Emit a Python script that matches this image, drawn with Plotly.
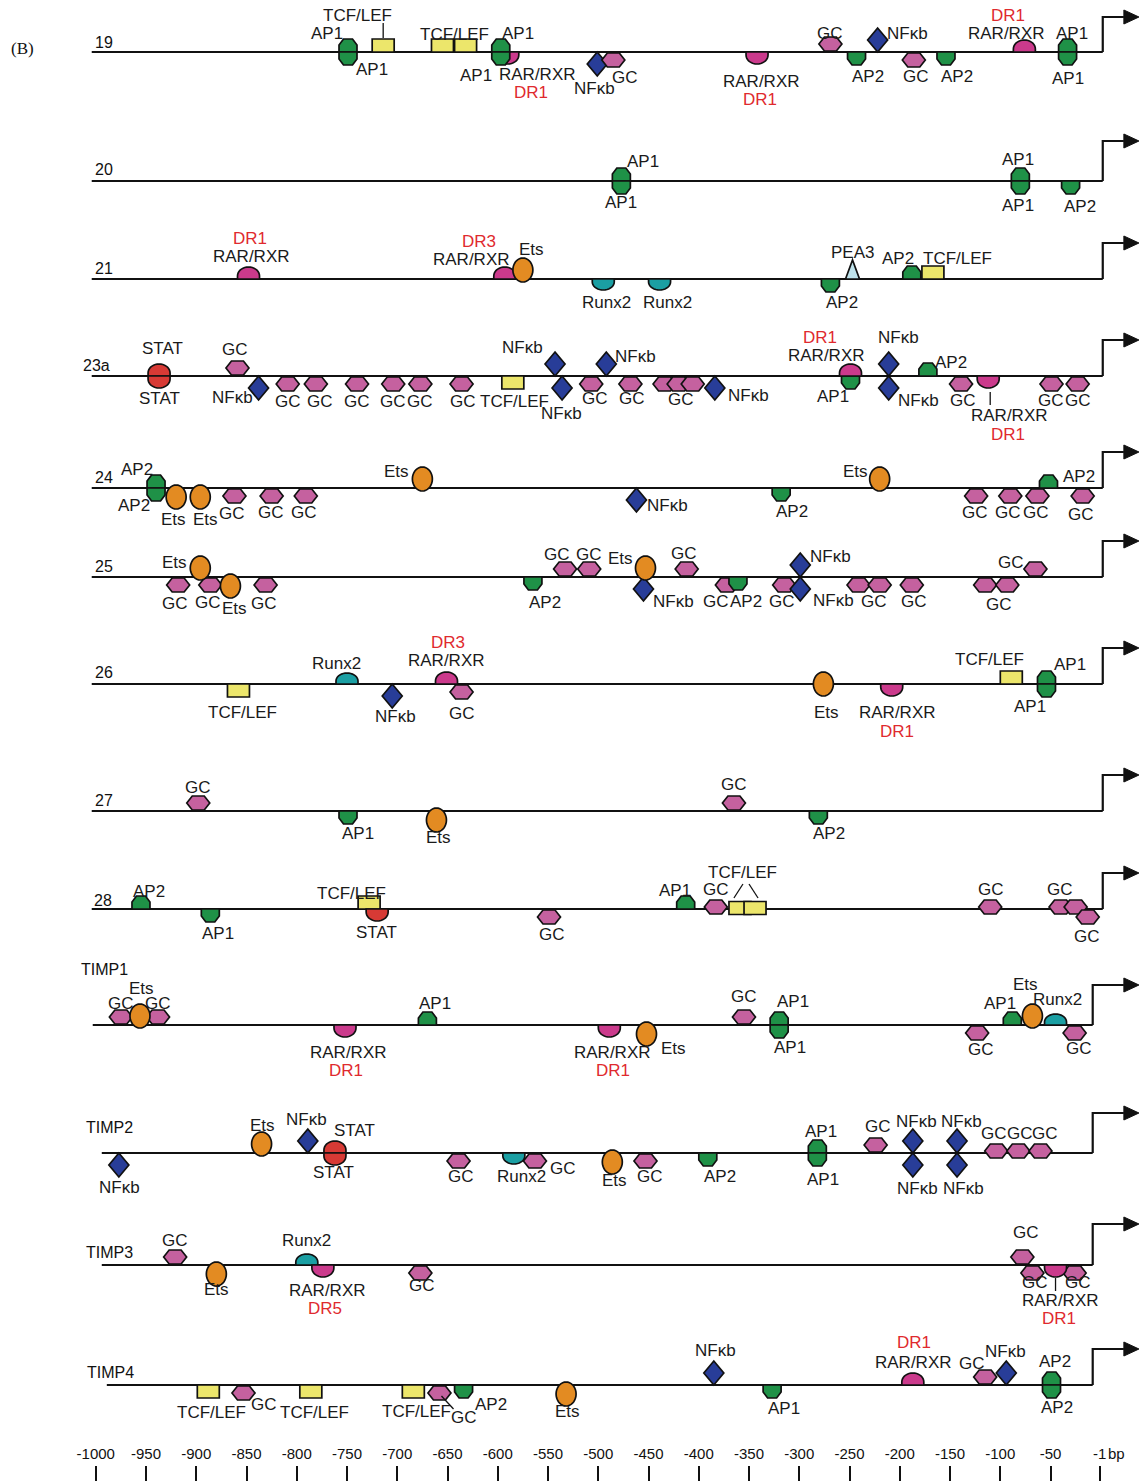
import math
import plotly.graph_objects as go

# ---------------------------------------------------------------------------
# Promoter rows (bp positions upstream of the transcription start site)
# site = (position_bp, factor, strand)   strand: u = upper, d = lower, m = on line
# label = (text, position_bp, vertical offset in px from the row line)
# ---------------------------------------------------------------------------
ROW_NAMES = ["19", "20", "21", "23a", "24", "25", "26", "27", "28",
             "TIMP1", "TIMP2", "TIMP3", "TIMP4"]
ROW_START_BP = [-1004, -1004, -1004, -1004, -1004, -1004, -1004, -1004, -1004,
                -1003, -994, -994, -989]
ROW_END_BP = [2, 2, 2, 2, 2, 2, 2, 2, 2, -8, -8, -8, -8]

SITES_19 = [(-749, "AP1", "u"), (-749, "AP1", "d"), (-714, "TCF", "u"),
            (-655, "TCF", "u"), (-632, "TCF", "u"), (-590, "RAR", "d"),
            (-597, "AP1", "u"), (-597, "AP1", "d"), (-501, "NF", "d"),
            (-485, "GC", "d"), (-342, "RAR", "d"), (-269, "GC", "u"),
            (-243, "AP2", "d"), (-222, "NF", "u"), (-186, "GC", "d"),
            (-154, "AP2", "d"), (-76, "RAR", "u"), (-33, "AP1", "u"),
            (-33, "AP1", "d")]
LABELS_19 = [("AP1", -770, -19), ("TCF/LEF", -740, -37), ("AP1", -725, 17),
             ("TCF/LEF", -643, -18), ("AP1", -580, -19), ("AP1", -622, 23),
             ("RAR/RXR", -560, 22), ("DR1", -567, 40), ("NFκb", -504, 36),
             ("GC", -473, 25), ("RAR/RXR", -338, 29), ("DR1", -339, 47),
             ("GC", -269, -19), ("AP2", -232, 24), ("NFκb", -192, -19),
             ("GC", -184, 24), ("AP2", -143, 24), ("RAR/RXR", -94, -19),
             ("DR1", -92, -37), ("AP1", -29, -19), ("AP1", -33, 26)]
LEADERS_19 = [(-714, -29, -714, -14)]

SITES_20 = [(-477, "AP1", "u"), (-477, "AP1", "d"), (-80, "AP1", "u"),
            (-80, "AP1", "d"), (-30, "AP2", "d")]
LABELS_20 = [("AP1", -455, -20), ("AP1", -477, 21), ("AP1", -82, -22),
             ("AP1", -82, 24), ("AP2", -21, 25)]
LEADERS_20 = []

SITES_21 = [(-848, "RAR", "u"), (-593, "RAR", "u"), (-575, "Ets", "u"),
            (-495, "Runx2", "d"), (-439, "Runx2", "d"), (-269, "AP2", "d"),
            (-247, "PEA3", "u"), (-188, "AP2", "u"), (-167, "TCF", "u")]
LABELS_21 = [("DR1", -847, -41), ("RAR/RXR", -845, -23), ("DR3", -619, -38),
             ("RAR/RXR", -626, -20), ("Ets", -566, -30), ("Runx2", -492, 23),
             ("Runx2", -431, 23), ("AP2", -257, 23), ("PEA3", -247, -27),
             ("AP2", -202, -21), ("TCF/LEF", -143, -21)]
LEADERS_21 = []

SITES_23A = [(-937, "STAT", "u"), (-937, "STAT", "d"), (-859, "GC", "u"),
             (-838, "NF", "d"), (-809, "GC", "d"), (-781, "GC", "d"),
             (-740, "GC", "d"), (-704, "GC", "d"), (-677, "GC", "d"),
             (-636, "GC", "d"), (-585, "TCF", "d"), (-543, "NF", "u"),
             (-536, "NF", "d"), (-507, "GC", "d"), (-492, "NF", "u"),
             (-468, "GC", "d"), (-434, "GC", "d"), (-420, "GC", "d"),
             (-406, "GC", "d"), (-384, "NF", "d"), (-249, "AP1", "d"),
             (-249, "RAR", "u"), (-211, "NF", "u"), (-211, "NF", "d"),
             (-172, "AP2", "u"), (-139, "GC", "d"), (-112, "RAR", "d"),
             (-49, "GC", "d"), (-23, "GC", "d")]
LABELS_23A = [("STAT", -934, -28), ("STAT", -937, 22), ("GC", -861, -27),
              ("NFκb", -864, 21), ("GC", -809, 25), ("GC", -777, 25),
              ("GC", -740, 25), ("GC", -704, 25), ("GC", -677, 25),
              ("GC", -635, 25), ("TCF/LEF", -583, 25), ("NFκb", -537, 37),
              ("NFκb", -575, -29), ("GC", -503, 22), ("NFκb", -463, -20),
              ("GC", -466, 22), ("GC", -418, 23), ("NFκb", -351, 19),
              ("DR1", -279, -39), ("RAR/RXR", -273, -21), ("AP1", -266, 20),
              ("NFκb", -201, -39), ("NFκb", -181, 24), ("AP2", -149, -14),
              ("GC", -137, 24), ("RAR/RXR", -91, 39), ("DR1", -92, 58),
              ("GC", -50, 24), ("GC", -23, 24)]
LEADERS_23A = [(-110, 16, -110, 29)]

SITES_24 = [(-940, "AP2", "u"), (-940, "AP2", "d"), (-920, "Ets", "d"),
            (-896, "Ets", "d"), (-862, "GC", "d"), (-825, "GC", "d"),
            (-791, "GC", "d"), (-675, "Ets", "u"), (-462, "NF", "d"),
            (-318, "AP2", "d"), (-220, "Ets", "u"), (-124, "GC", "d"),
            (-90, "GC", "d"), (-63, "GC", "d"), (-52, "AP2", "u"),
            (-18, "GC", "d")]
LABELS_24 = [("AP2", -959, -19), ("AP2", -962, 17), ("Ets", -923, 31),
             ("Ets", -891, 31), ("GC", -864, 25), ("GC", -826, 24),
             ("GC", -793, 24), ("Ets", -701, -17), ("NFκb", -431, 17),
             ("AP2", -307, 23), ("Ets", -244, -17), ("GC", -125, 24),
             ("GC", -92, 24), ("GC", -64, 24), ("AP2", -22, -12),
             ("GC", -20, 26)]
LEADERS_24 = []

SITES_25 = [(-918, "GC", "d"), (-886, "GC", "d"), (-896, "Ets", "u"),
            (-866, "Ets", "d"), (-831, "GC", "d"), (-565, "AP2", "d"),
            (-533, "GC", "u"), (-509, "GC", "u"), (-455, "NF", "d"),
            (-453, "Ets", "u"), (-412, "GC", "u"), (-372, "GC", "d"),
            (-361, "AP2", "d"), (-315, "GC", "d"), (-299, "NF", "u"),
            (-299, "NF", "d"), (-241, "GC", "d"), (-220, "GC", "d"),
            (-188, "GC", "d"), (-115, "GC", "d"), (-93, "GC", "d"),
            (-65, "GC", "u")]
LABELS_25 = [("Ets", -922, -15), ("GC", -921, 26), ("GC", -888, 25),
             ("Ets", -862, 31), ("GC", -833, 26), ("AP2", -553, 25),
             ("GC", -541, -23), ("GC", -509, -23), ("Ets", -478, -19),
             ("NFκb", -425, 24), ("GC", -415, -24), ("GC", -383, 24),
             ("AP2", -353, 24), ("GC", -317, 24), ("NFκb", -269, -21),
             ("NFκb", -266, 23), ("GC", -226, 24), ("GC", -186, 24),
             ("GC", -101, 27), ("GC", -89, -15)]
LEADERS_25 = []

SITES_26 = [(-858, "TCF", "d"), (-750, "Runx2", "u"), (-705, "NF", "d"),
            (-651, "RAR", "u"), (-636, "GC", "d"), (-276, "Ets", "m"),
            (-208, "RAR", "d"), (-89, "TCF", "u"), (-54, "AP1", "u"),
            (-54, "AP1", "d")]
LABELS_26 = [("TCF/LEF", -854, 28), ("Runx2", -760, -21), ("NFκb", -702, 32),
             ("DR3", -650, -42), ("RAR/RXR", -651, -24), ("GC", -636, 29),
             ("Ets", -273, 28), ("RAR/RXR", -202, 28), ("DR1", -203, 47),
             ("TCF/LEF", -111, -25), ("AP1", -31, -20), ("AP1", -70, 22)]
LEADERS_26 = []

SITES_27 = [(-898, "GC", "u"), (-749, "AP1", "d"), (-661, "Ets", "d"),
            (-365, "GC", "u"), (-281, "AP2", "d")]
LABELS_27 = [("GC", -898, -24), ("AP1", -739, 22), ("Ets", -659, 26),
             ("GC", -365, -27), ("AP2", -270, 22)]
LEADERS_27 = []

SITES_28 = [(-955, "AP2", "u"), (-886, "AP1", "d"), (-728, "TCF", "u"),
            (-720, "STAT", "d"), (-549, "GC", "d"), (-413, "AP1", "u"),
            (-383, "GC", "m"), (-359, "TCF", "m"), (-344, "TCF", "m"),
            (-110, "GC", "m"), (-40, "GC", "m"), (-25, "GC", "m"),
            (-13, "GC", "d")]
LABELS_28 = [("AP2", -947, -18), ("AP1", -878, 24), ("TCF/LEF", -746, -16),
             ("STAT", -721, 23), ("GC", -546, 25), ("AP1", -424, -19),
             ("GC", -383, -20), ("TCF/LEF", -356, -37), ("GC", -109, -20),
             ("GC", -41, -20), ("GC", -14, 27)]
LEADERS_28 = [(-365, -11, -356, -25), (-350, -25, -341, -11)]

SITES_TIMP1 = [(-975, "GC", "u"), (-938, "GC", "u"), (-956, "Ets", "u"),
               (-752, "RAR", "d"), (-670, "AP1", "u"), (-489, "RAR", "d"),
               (-452, "Ets", "d"), (-355, "GC", "u"), (-320, "AP1", "u"),
               (-320, "AP1", "d"), (-123, "GC", "d"), (-88, "AP1", "u"),
               (-45, "Runx2", "u"), (-68, "Ets", "u"), (-26, "GC", "d")]
LABELS_TIMP1 = [("GC", -975, -22), ("Ets", -954, -37), ("GC", -938, -22),
                ("RAR/RXR", -749, 27), ("DR1", -751, 45), ("AP1", -662, -22),
                ("RAR/RXR", -486, 27), ("DR1", -485, 45), ("Ets", -425, 23),
                ("GC", -355, -29), ("AP1", -306, -24), ("AP1", -309, 22),
                ("GC", -119, 24), ("AP1", -100, -22), ("Ets", -75, -41),
                ("Runx2", -43, -26), ("GC", -22, 23)]
LEADERS_TIMP1 = []

SITES_TIMP2 = [(-977, "NF", "d"), (-835, "Ets", "u"), (-789, "NF", "u"),
               (-762, "STAT", "u"), (-762, "STAT", "d"), (-639, "GC", "d"),
               (-584, "Runx2", "d"), (-563, "GC", "d"), (-486, "Ets", "d"),
               (-453, "GC", "d"), (-391, "AP2", "d"), (-282, "AP1", "u"),
               (-282, "AP1", "d"), (-224, "GC", "u"), (-187, "NF", "u"),
               (-187, "NF", "d"), (-143, "NF", "u"), (-143, "NF", "d"),
               (-104, "GC", "m"), (-82, "GC", "m"), (-60, "GC", "m")]
LABELS_TIMP2 = [("NFκb", -976, 34), ("Ets", -834, -28), ("NFκb", -790, -34),
                ("STAT", -743, -23), ("STAT", -763, 19), ("GC", -637, 23),
                ("Runx2", -576, 23), ("GC", -535, 15), ("Ets", -484, 27),
                ("GC", -449, 23), ("AP2", -379, 23), ("AP1", -278, -22),
                ("AP1", -276, 26), ("GC", -222, -27), ("NFκb", -183, -32),
                ("NFκb", -182, 35), ("NFκb", -139, -32), ("NFκb", -137, 35),
                ("GC", -106, -20), ("GC", -80, -20), ("GC", -55, -20)]
LEADERS_TIMP2 = []

SITES_TIMP3 = [(-921, "GC", "u"), (-880, "Ets", "d"), (-790, "Runx2", "u"),
               (-774, "RAR", "d"), (-677, "GC", "d"), (-78, "GC", "u"),
               (-68, "GC", "d"), (-26, "GC", "d"), (-45, "RAR", "d")]
LABELS_TIMP3 = [("GC", -921, -25), ("Ets", -880, 24), ("Runx2", -790, -25),
                ("RAR/RXR", -769, 25), ("DR5", -772, 43), ("GC", -675, 20),
                ("GC", -74, -33), ("GC", -65, 17), ("GC", -23, 17),
                ("RAR/RXR", -40, 35), ("DR1", -42, 53)]
LEADERS_TIMP3 = [(-45, 13, -45, 26)]

SITES_TIMP4 = [(-888, "TCF", "d"), (-853, "GC", "d"), (-786, "TCF", "d"),
               (-684, "TCF", "d"), (-658, "GC", "d"), (-634, "AP2", "d"),
               (-532, "Ets", "d"), (-385, "NF", "u"), (-327, "AP1", "d"),
               (-187, "RAR", "u"), (-115, "GC", "u"), (-94, "NF", "u"),
               (-49, "AP2", "u"), (-49, "AP2", "d")]
LABELS_TIMP4 = [("TCF/LEF", -885, 27), ("GC", -833, 19), ("TCF/LEF", -782, 27),
                ("TCF/LEF", -681, 26), ("GC", -634, 32), ("AP2", -607, 19),
                ("Ets", -531, 26), ("NFκb", -383, -35), ("AP1", -315, 23),
                ("DR1", -186, -43), ("RAR/RXR", -186, -23), ("GC", -128, -22),
                ("NFκb", -95, -34), ("AP2", -46, -24), ("AP2", -44, 22)]
LEADERS_TIMP4 = [(-656, 11, -644, 24)]

ROW_SITES = [SITES_19, SITES_20, SITES_21, SITES_23A, SITES_24, SITES_25,
             SITES_26, SITES_27, SITES_28, SITES_TIMP1, SITES_TIMP2,
             SITES_TIMP3, SITES_TIMP4]
ROW_LABELS = [LABELS_19, LABELS_20, LABELS_21, LABELS_23A, LABELS_24, LABELS_25,
              LABELS_26, LABELS_27, LABELS_28, LABELS_TIMP1, LABELS_TIMP2,
              LABELS_TIMP3, LABELS_TIMP4]
ROW_LEADERS = [LEADERS_19, LEADERS_20, LEADERS_21, LEADERS_23A, LEADERS_24,
               LEADERS_25, LEADERS_26, LEADERS_27, LEADERS_28, LEADERS_TIMP1,
               LEADERS_TIMP2, LEADERS_TIMP3, LEADERS_TIMP4]

TICK_VALUES = [-1000, -950, -900, -850, -800, -750, -700, -650, -600, -550,
               -500, -450, -400, -350, -300, -250, -200, -150, -100, -50, -1]
TICK_TEXT = [str(v) for v in TICK_VALUES]

# ---------------------------------------------------------------------------
# Page layout (pixels)
# ---------------------------------------------------------------------------
W, H = 1142, 1481
PX_PER_BP = 1.005
REF_PX, REF_BP = 146, -950
X_RANGE = [REF_BP - REF_PX / PX_PER_BP, REF_BP + (W - REF_PX) / PX_PER_BP]

ROW_Y = [52, 181, 279, 376, 488, 577, 684, 811, 909, 1025, 1153, 1265, 1385]
ARROW_RISE = [35, 40, 36, 36, 36, 36, 36, 36, 36, 40, 40, 41, 36]
TITLE_LEFT_BP = [-1003, -1003, -1003, -1015, -1003, -1003, -1003, -1003,
                 -1004, -1017, -1012, -1012, -1011]
TITLE_DY = [-10, -12, -11, -11, -11, -11, -12, -11, -9, -56, -26, -13, -13]
ARROW_HEAD_BP = (23, 38)

FILL = {"AP1": "#1f9147", "AP2": "#1f9147", "GC": "#c5619f", "NF": "#283d98",
        "RAR": "#cb3a8c", "Ets": "#e38b22", "TCF": "#ece66b", "STAT": "#d73a35",
        "Runx2": "#1b9fa3", "PEA3": "#bfe3ec"}
RED = "#df2a2e"
FONT = "Liberation Sans, Arial, sans-serif"
LABEL_SIZE = 17
OUTLINE_W = 1.7


def outline(kind, strand):
    """Return (centre offset, list of (dx px, dy px) vertices) for a site glyph."""
    s = -1 if strand == "u" else 1
    if kind in ("AP1", "AP2"):
        return 0, [(-9, 0), (-9, 7 * s), (-4.5, 13 * s), (4.5, 13 * s),
                   (9, 7 * s), (9, 0)]
    if kind == "GC":
        c = {"u": -8, "d": 8, "m": -2}[strand]
        return c, [(-11.5, 0), (-6, -7), (6, -7), (11.5, 0), (6, 7), (-6, 7)]
    if kind == "NF":
        if strand == "m":
            return 0, [(0, -12.5), (-10, 0), (0, 12.5), (10, 0)]
        return 0, [(0, 0), (-10, 12 * s), (0, 24 * s), (10, 12 * s)]
    if kind in ("RAR", "STAT", "Runx2"):
        w, h = 11, (11 if kind == "Runx2" else 12)
        pts = [(-w, 0)]
        for i in range(19):
            t = math.pi * i / 18
            pts.append((-w * math.cos(t), s * (3 + (h - 3) * math.sin(t))))
        pts.append((w, 0))
        return 0, pts
    if kind == "Ets":
        c = {"u": -9, "d": 9, "m": 0}[strand]
        return c, [(10 * math.cos(2 * math.pi * i / 36),
                    12 * math.sin(2 * math.pi * i / 36)) for i in range(36)]
    if kind == "TCF":
        if strand == "m":
            return -1, [(-11, -6.5), (11, -6.5), (11, 6.5), (-11, 6.5)]
        return 0, [(-11, 0), (-11, 13 * s), (11, 13 * s), (11, 0)]
    if kind == "PEA3":
        return 0, [(-7, 0), (0, -19), (7, 0)]
    raise ValueError(kind)


shapes = []
annotations = []


def add_path(points, fill=None, width=OUTLINE_W):
    d = "M " + " L ".join(f"{x:.3f},{y:.2f}" for x, y in points)
    if fill is not None:
        d += " Z"
    shapes.append(dict(type="path", path=d, xref="x", yref="y", layer="above",
                       fillcolor=fill if fill else "rgba(0,0,0,0)",
                       line=dict(color="#111111", width=width)))


def bp_shift(bp, dx_px):
    return bp + dx_px / PX_PER_BP


for i, name in enumerate(ROW_NAMES):
    y0 = ROW_Y[i]
    start, end = ROW_START_BP[i], ROW_END_BP[i]
    top = y0 - ARROW_RISE[i]
    # backbone and transcription-start arrow
    add_path([(start, y0), (end, y0)], width=2.2)
    add_path([(end, y0), (end, top), (ARROW_HEAD_BP[0], top)], width=2.2)
    add_path([(ARROW_HEAD_BP[0], top - 7), (ARROW_HEAD_BP[1], top),
              (ARROW_HEAD_BP[0], top + 7)], fill="#111111", width=1)
    annotations.append(dict(x=TITLE_LEFT_BP[i], y=y0 + TITLE_DY[i], text=name,
                            xanchor="left", yanchor="middle", showarrow=False,
                            font=dict(family=FONT, size=16, color="#111111")))
    # binding sites
    for bp, kind, strand in ROW_SITES[i]:
        c, pts = outline(kind, strand)
        add_path([(bp_shift(bp, dx), y0 + c + dy) for dx, dy in pts],
                 fill=FILL[kind])
    # leader ticks
    for b1, d1, b2, d2 in ROW_LEADERS[i]:
        add_path([(b1, y0 + d1), (b2, y0 + d2)], width=1.3)
    # text labels
    for text, bp, dy in ROW_LABELS[i]:
        annotations.append(dict(x=bp, y=y0 + dy, text=text, showarrow=False,
                                xanchor="center", yanchor="middle",
                                font=dict(family=FONT, size=LABEL_SIZE,
                                          color=RED if text.startswith("DR") else "#1a1a1a")))

annotations.append(dict(x=-1073, y=48, text="(B)", showarrow=False,
                        xanchor="center", yanchor="middle",
                        font=dict(family="Liberation Serif, DejaVu Serif, serif",
                                  size=17, color="#111111")))
annotations.append(dict(x=16, y=1453, text="bp", showarrow=False,
                        xanchor="center", yanchor="middle",
                        font=dict(family=FONT, size=15, color="#111111")))

fig = go.Figure()
fig.add_trace(go.Scatter(x=[X_RANGE[0]], y=[0], mode="markers",
                         marker=dict(opacity=0), hoverinfo="skip",
                         showlegend=False))
fig.add_trace(go.Scatter(x=[X_RANGE[0]], y=[0], xaxis="x2", mode="markers",
                         marker=dict(opacity=0), hoverinfo="skip",
                         showlegend=False))

fig.update_layout(
    width=W, height=H, autosize=False,
    margin=dict(l=0, r=0, t=0, b=0, pad=0),
    paper_bgcolor="white", plot_bgcolor="white",
    showlegend=False,
    xaxis=dict(range=X_RANGE, visible=False, fixedrange=True),
    yaxis=dict(range=[H, 0], visible=False, fixedrange=True),
    xaxis2=dict(range=X_RANGE, overlaying="x", anchor="free",
                position=(H - 1465) / H, side="top",
                tickmode="array", tickvals=TICK_VALUES, ticktext=TICK_TEXT,
                ticks="inside", ticklen=16, tickwidth=2, tickcolor="#111111",
                ticklabelstandoff=3,
                showgrid=False, zeroline=False, showline=False,
                tickfont=dict(family=FONT, size=15, color="#111111"),
                fixedrange=True),
    shapes=shapes,
    annotations=annotations,
)

fig.write_html("out.html")
